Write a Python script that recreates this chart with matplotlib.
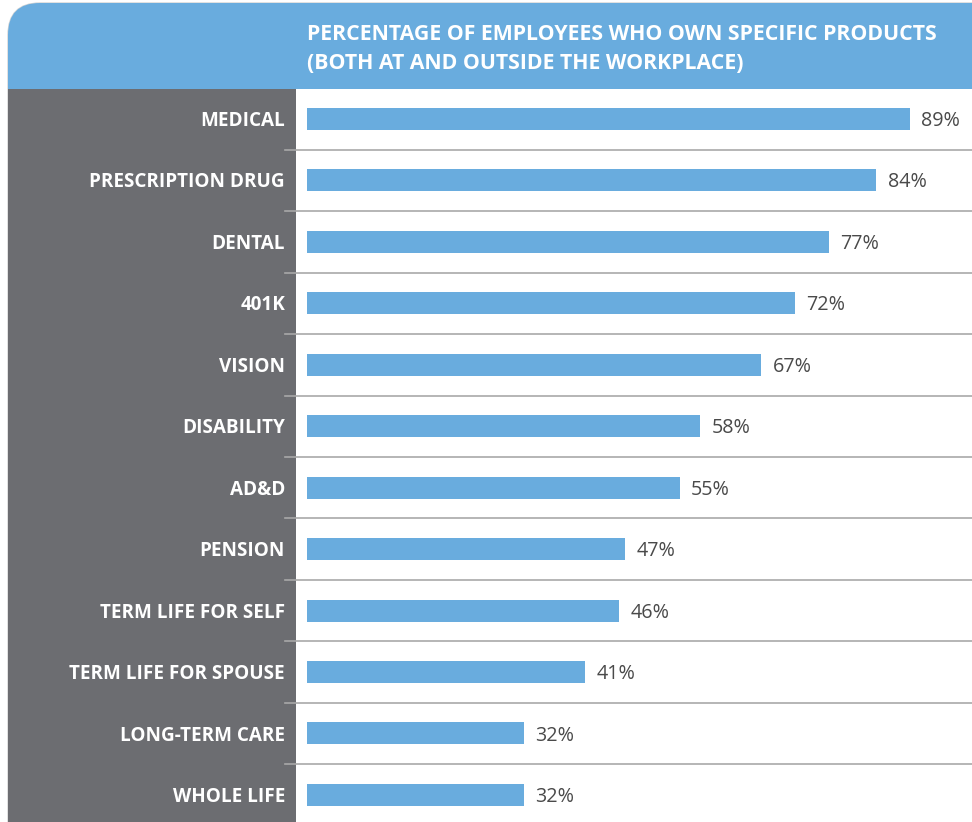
import matplotlib.pyplot as plt
from matplotlib.patches import FancyBboxPatch, Rectangle

# data
categories = ['MEDICAL', 'PRESCRIPTION DRUG', 'DENTAL', '401K', 'VISION', 'DISABILITY',
              'AD&D', 'PENSION', 'TERM LIFE FOR SELF', 'TERM LIFE FOR SPOUSE',
              'LONG-TERM CARE', 'WHOLE LIFE']
values = [89, 84, 77, 72, 67, 58, 55, 47, 46, 41, 32, 32]
title = 'PERCENTAGE OF EMPLOYEES WHO OWN SPECIFIC PRODUCTS\n(BOTH AT AND OUTSIDE THE WORKPLACE)'

BLUE = '#69acde'
PANEL = '#6c6d71'
RULE = '#a9a9a9'
VALTXT = '#4a4a4a'

W, H = 972, 822
plt.rcParams['font.family'] = ['Open Sans', 'DejaVu Sans']

fig = plt.figure(figsize=(W / 100, H / 100), dpi=100)

# background layer in pixel coordinates
bg = fig.add_axes([0, 0, 1, 1])
bg.set_xlim(0, W)
bg.set_ylim(H, 0)
bg.axis('off')
bg.add_patch(FancyBboxPatch((8, 3), 1040, 880, boxstyle='round,pad=0,rounding_size=32',
                            facecolor='white', edgecolor='#d4d4d4', linewidth=1))
bg.add_patch(FancyBboxPatch((8, 3), 1040, 150, boxstyle='round,pad=0,rounding_size=32',
                            facecolor=BLUE, edgecolor='none'))
bg.add_patch(Rectangle((8, 89), 288, 800, facecolor=PANEL, edgecolor='none'))
bg.add_patch(Rectangle((296, 89), 800, 800, facecolor='white', edgecolor='none'))
bg.text(307, 49, title, color='white', fontsize=15.3, fontweight='bold',
        ha='left', va='center', linespacing=1.5)

# bar chart
px_per_pct = 6.775
pitch = 61.45
top_off = 119 - 89
ax = fig.add_axes([307 / W, 0, (W - 307) / W, (H - 89) / H])
ax.set_xlim(0, (W - 307) / px_per_pct)
ax.set_ylim((H - 89 - top_off) / pitch, -top_off / pitch)
ax.axis('off')

ypos = list(range(len(categories)))
ax.barh(ypos, values, height=22 / pitch, color=BLUE, zorder=2)
for i, v in enumerate(values):
    ax.text(v + 1.7, i + 2 / pitch, f'{v}%', color=VALTXT, fontsize=14.2,
            ha='left', va='center')
for i in range(len(categories) - 1):
    ax.axhline(i + 0.5, xmin=-22 / (W - 307), xmax=1, color=RULE, linewidth=1.2, clip_on=False)

for i, c in enumerate(categories):
    bg.text(285, 121 + pitch * i, c, color='white', fontsize=13.6, fontweight='bold',
            ha='right', va='center')

fig.savefig('out.png', dpi=100)
